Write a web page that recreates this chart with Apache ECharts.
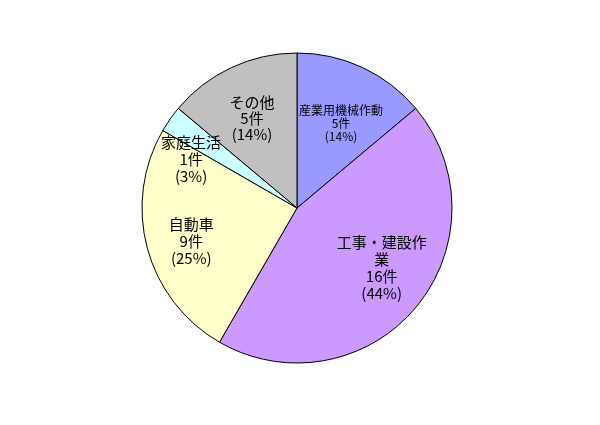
<!DOCTYPE html>
<html><head><meta charset="utf-8">
<script src="https://cdn.jsdelivr.net/npm/echarts@6/dist/echarts.min.js"></script>
<style>html,body{margin:0;padding:0;background:#fff}#c{width:600px;height:425px}</style>
</head><body><div id="c"></div>
<script>
const categories = ['産業用機械作動', '工事・建設作業', '自動車', '家庭生活', 'その他'];
const counts = [5, 16, 9, 1, 5];
const colors = ['#9999FF', '#CC99FF', '#FFFFCC', '#CCFFFF', '#C0C0C0'];
const labelOffsets = [[10, -12], [23, 8], [-28, 12], [-40, -3], [-11, -17]];
const labelSizes = [12, 15, 15, 15, 15];
const labelLineHeights = [13, 17, 17, 17, 16];

const chart = echarts.init(document.getElementById('c'));
chart.setOption({
  backgroundColor: '#fff',
  animation: false,
  series: [{
    type: 'pie',
    center: [297, 208],
    radius: 155,
    startAngle: 90,
    clockwise: true,
    percentPrecision: 0,
    label: {
      position: 'inside',
      color: '#000',
      fontFamily: 'Noto Sans CJK JP',
      formatter: '{b}\n{c}件\n({d}%)',
      align: 'center'
    },
    labelLine: { show: false },
    emphasis: { disabled: true },
    itemStyle: { borderColor: '#000', borderWidth: 1 },
    data: categories.map((n, i) => ({
      name: n,
      value: counts[i],
      itemStyle: { color: colors[i] },
      label: {
        offset: labelOffsets[i],
        fontSize: labelSizes[i],
        lineHeight: labelLineHeights[i],
        width: i === 1 ? 96 : undefined,
        overflow: i === 1 ? 'break' : 'none'
      }
    }))
  }]
});
</script></body></html>
